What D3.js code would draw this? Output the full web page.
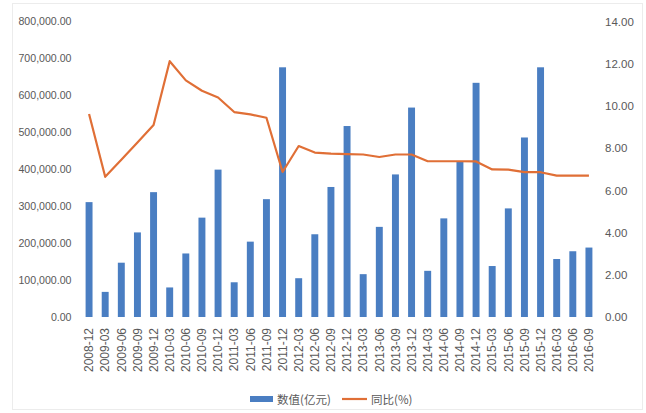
<!DOCTYPE html>
<html><head><meta charset="utf-8">
<script src="https://cdn.jsdelivr.net/npm/d3@7"></script>
<style>
body{margin:0;background:#fff;}
text{font-family:"Liberation Sans",Arial,sans-serif;fill:#595959;}
</style></head>
<body><svg id="c" width="646" height="413"></svg>
<script>
const categories = ["2008-12","2009-03","2009-06","2009-09","2009-12","2010-03","2010-06","2010-09","2010-12","2011-03","2011-06","2011-09","2011-12","2012-03","2012-06","2012-09","2012-12","2013-03","2013-06","2013-09","2013-12","2014-03","2014-06","2014-09","2014-12","2015-03","2015-06","2015-09","2015-12","2016-03","2016-06","2016-09"];
const values = [311000,68000,147000,229000,338000,80000,172000,269000,399000,94000,204000,319000,676000,105000,224000,352000,517000,116000,244000,386000,567000,125000,267000,420000,634000,138000,294000,486000,676000,157000,178000,188000];
const yoy = [9.62,6.64,7.45,8.27,9.10,12.12,11.21,10.72,10.40,9.71,9.60,9.44,6.87,8.10,7.79,7.74,7.72,7.70,7.58,7.70,7.70,7.38,7.38,7.38,7.37,6.99,6.98,6.86,6.86,6.70,6.70,6.70];
const leftTicks = [0,100000,200000,300000,400000,500000,600000,700000,800000];
const rightTicks = [0,2,4,6,8,10,12,14];
const seriesNames = ["数值(亿元)","同比(%)"];

const svg = d3.select("#c");
const plotTop = 21.5, plotBottom = 317;
const x = d3.scaleBand().domain(categories).range([81, 597]).paddingInner(0.57).paddingOuter(0.285);
const yL = d3.scaleLinear().domain([0, 800000]).range([plotBottom, plotTop]);
const yR = d3.scaleLinear().domain([0, 14]).range([plotBottom, plotTop]);

svg.append("rect").attr("x",12.5).attr("y",3.5).attr("width",630).attr("height",406)
  .attr("fill","none").attr("stroke","#ececec");

const fmtL = d3.format(",.2f");
const fmtR = d3.format(".2f");

const axL = svg.append("g").attr("transform","translate(71.5,0)")
  .call(d3.axisLeft(yL).tickValues(leftTicks).tickFormat(fmtL).tickSize(0).tickPadding(0));
axL.select(".domain").remove();
axL.selectAll("text").attr("font-size","10.6px").attr("fill","#595959");

const axR = svg.append("g").attr("transform","translate(605,0)")
  .call(d3.axisRight(yR).tickValues(rightTicks).tickFormat(fmtR).tickSize(0).tickPadding(0));
axR.select(".domain").remove();
axR.selectAll("text").attr("font-size","11.5px").attr("fill","#595959");

svg.append("g").selectAll("rect").data(values).join("rect")
  .attr("x",(d,i)=>x(categories[i])).attr("width",x.bandwidth())
  .attr("y",d=>yL(d)).attr("height",d=>plotBottom-yL(d)).attr("fill","#4a7ec2");

const line = d3.line().x((d,i)=>x(categories[i])+x.bandwidth()/2).y(d=>yR(d));
svg.append("path").datum(yoy).attr("d",line).attr("fill","none")
  .attr("stroke","#e06f36").attr("stroke-width",2.2).attr("stroke-linejoin","round");

const axB = svg.append("g").attr("transform",`translate(0,${plotBottom})`)
  .call(d3.axisBottom(x).tickSize(0).tickPadding(0));
axB.select(".domain").remove();
axB.selectAll("text").attr("font-size","12px").attr("fill","#595959")
  .attr("transform","rotate(-90)").attr("text-anchor","end")
  .attr("x",-11).attr("y",0).attr("dy","0.35em");

const lg = svg.append("g");
lg.append("rect").attr("x",250).attr("y",396).attr("width",23).attr("height",6).attr("fill","#4a7ec2");
lg.append("text").attr("x",277).attr("y",403.5).attr("font-size","11.5px").text(seriesNames[0])
  .style("font-family","Noto Sans CJK SC, sans-serif");
lg.append("line").attr("x1",342).attr("x2",367).attr("y1",399).attr("y2",399)
  .attr("stroke","#e06f36").attr("stroke-width",2.2);
lg.append("text").attr("x",371).attr("y",403.5).attr("font-size","11.5px").text(seriesNames[1])
  .style("font-family","Noto Sans CJK SC, sans-serif");
</script></body></html>
